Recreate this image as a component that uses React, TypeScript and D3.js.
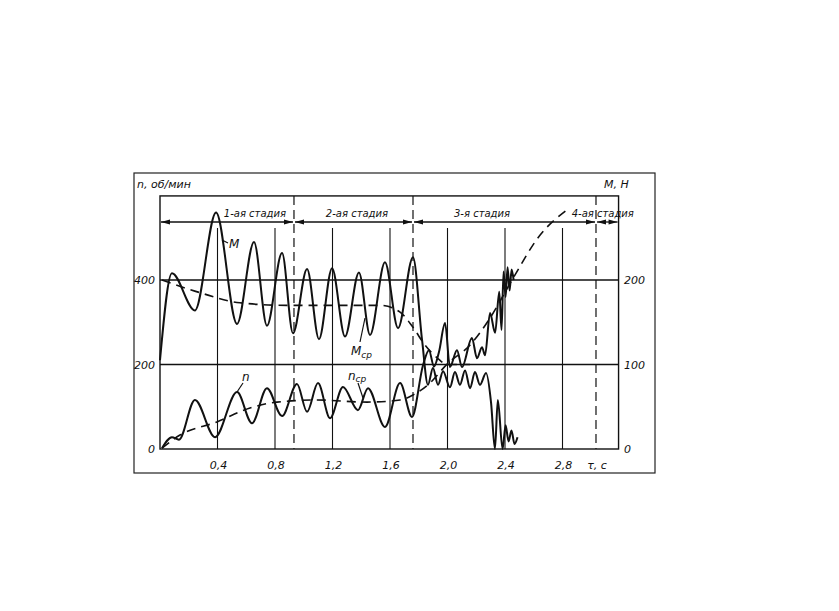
import React from 'react';
import * as d3 from 'd3';

// ---- axis data ----
const timeTicks = [0.4, 0.8, 1.2, 1.6, 2.0, 2.4, 2.8];
const timeTickLabels = ['0,4', '0,8', '1,2', '1,6', '2,0', '2,4', '2,8'];
const leftTicks = [0, 200, 400];
const leftTickLabels = ['0', '200', '400'];
const rightTicks = [0, 100, 200];
const rightTickLabels = ['0', '100', '200'];
const stageBounds = [0, 0.932, 1.76, 3.033, 3.19];
const stageLabels = ['1-ая стадия', '2-ая стадия', '3-я стадия', '4-ая стадия'];
const stageLabelT = [0.66, 1.37, 2.24, 3.08];

// ---- torque M (right axis, Н) ----
const mTime = [0, 0.083, 0.243, 0.39, 0.536, 0.654, 0.744, 0.849, 0.925, 1.023, 1.106, 1.197, 1.287, 1.384, 1.461, 1.565, 1.656, 1.76,
  1.823, 1.864, 1.899, 1.934, 1.969, 2.017, 2.052, 2.087, 2.122, 2.157, 2.191, 2.226, 2.268, 2.303, 2.33, 2.35, 2.383,
  2.404, 2.425, 2.445, 2.466, 2.487];
const mValue = [105, 208, 164, 280, 148, 245, 146, 232, 137, 213, 130, 214, 133, 209, 135, 221, 143, 227,
  129, 76, 96, 76, 92, 73, 91, 76, 93, 72, 91, 76, 90, 55, 0, 58, 0,
  28, 9, 22, 6, 14];

// ---- speed n (left axis, об/мин) ----
const nTime = [0.014, 0.083, 0.132, 0.243, 0.383, 0.536, 0.64, 0.744, 0.849, 0.953, 1.023, 1.099, 1.183, 1.273, 1.377, 1.447, 1.565, 1.67, 1.753,
  1.83, 1.871, 1.906, 1.941, 1.983, 2.017, 2.066, 2.101, 2.17, 2.205, 2.24, 2.261, 2.296, 2.331, 2.36,
  2.376, 2.39, 2.404, 2.418, 2.432, 2.446, 2.46];
const nValue = [2, 28, 22, 116, 28, 135, 61, 144, 78, 154, 88, 156, 73, 147, 92, 144, 52, 156, 76,
  199, 234, 195, 230, 298, 194, 234, 194, 263, 215, 241, 222, 322, 275, 372,
  282, 420, 360, 430, 375, 425, 400];

// ---- mean torque Mср (dashed, right axis) ----
const mAvgTime = [0.014, 0.278, 0.556, 0.883, 1.53, 1.67, 1.76, 1.843, 1.927, 1.997, 2.157];
const mAvgValue = [200, 185, 173, 170, 170, 162, 144, 123, 108, 100, 100];

// ---- mean speed nср (dashed, left axis) ----
const nAvgTime = [0.014, 0.139, 0.396, 0.626, 0.814, 1.092, 1.44, 1.67, 1.76, 1.878, 1.997, 2.157, 2.296, 2.449, 2.643, 2.831];
const nAvgValue = [2, 33, 64, 97, 111, 116, 111, 116, 128, 156, 201, 246, 310, 400, 506, 566];

const W = 839;
const H = 611;
const font = "'DejaVu Sans', 'Liberation Sans', sans-serif";

export default function App() {
  const x = d3.scaleLinear().domain([0, 2.8]).range([160, 562.5]);
  const yN = d3.scaleLinear().domain([0, 400]).range([449, 280]);
  const yM = d3.scaleLinear().domain([0, 200]).range([449, 280]);

  const left = x(0);
  const right = x(3.19);
  const top = yN(599);
  const bottom = yN(0);
  const arrowY = 222;
  const gridTop = 228;

  const lineGen = (ys: (v: number) => number) =>
    d3.line<[number, number]>().x((d) => x(d[0])).y((d) => ys(d[1])).curve(d3.curveMonotoneX);

  const mPts = mTime.map((t, i) => [t, mValue[i]] as [number, number]);
  const nPts = nTime.map((t, i) => [t, nValue[i]] as [number, number]);
  const mAvgPts = mAvgTime.map((t, i) => [t, mAvgValue[i]] as [number, number]);
  const nAvgPts = nAvgTime.map((t, i) => [t, nAvgValue[i]] as [number, number]);

  const arrowHead = (px: number, dir: number, key: string) => (
    <path key={key} d={`M${px},${arrowY} L${px - dir * 9},${arrowY - 2.5} L${px - dir * 9},${arrowY + 2.5} Z`} fill="#111" />
  );

  return (
    <svg width={W} height={H} style={{ position: 'absolute', left: 0, top: 0, background: '#fff' }}>
      <rect x={0} y={0} width={W} height={H} fill="#fff" />
      {/* outer frame */}
      <rect x={134} y={173} width={521} height={300} fill="none" stroke="#222" strokeWidth={1.2} />
      {/* inner plot frame */}
      <rect x={left} y={top} width={right - left} height={bottom - top} fill="none" stroke="#111" strokeWidth={1.4} />

      {/* horizontal grid */}
      {[200, 400].map((v) => (
        <line key={'h' + v} x1={left} x2={right} y1={yN(v)} y2={yN(v)} stroke="#111" strokeWidth={1.3} />
      ))}
      {/* vertical grid */}
      {timeTicks.map((t) => (
        <line key={'v' + t} x1={x(t)} x2={x(t)} y1={gridTop} y2={bottom} stroke="#111" strokeWidth={1.1} />
      ))}
      {/* stage boundaries */}
      {stageBounds.slice(1, 4).map((t) => (
        <line key={'s' + t} x1={x(t)} x2={x(t)} y1={top} y2={bottom} stroke="#111" strokeWidth={1.2} strokeDasharray="9,5" />
      ))}

      {/* stage arrows */}
      {stageBounds.slice(0, 4).map((t, i) => {
        const a = x(t) + 1;
        const b = x(stageBounds[i + 1]) - 1;
        return (
          <g key={'arr' + i}>
            <line x1={a} x2={b} y1={arrowY} y2={arrowY} stroke="#111" strokeWidth={1.3} />
            {arrowHead(a, -1, 'l')}
            {arrowHead(b, 1, 'r')}
          </g>
        );
      })}
      {stageLabels.map((s, i) => (
        <text key={'sl' + i} x={x(stageLabelT[i])} y={217} textAnchor="middle" fontFamily={font} fontStyle="italic" fontSize={10} fill="#111">
          {s}
        </text>
      ))}

      {/* curves */}
      <path d={lineGen(yM)(mAvgPts) || ''} fill="none" stroke="#111" strokeWidth={1.6} strokeDasharray="9,6" />
      <path d={lineGen(yN)(nAvgPts) || ''} fill="none" stroke="#111" strokeWidth={1.6} strokeDasharray="9,6" />
      <path d={lineGen(yM)(mPts) || ''} fill="none" stroke="#111" strokeWidth={2} />
      <path d={lineGen(yN)(nPts) || ''} fill="none" stroke="#111" strokeWidth={2} />

      {/* curve labels */}
      <line x1={222} y1={240} x2={228} y2={243} stroke="#111" strokeWidth={1.2} />
      <text x={229} y={248} fontFamily={font} fontStyle="italic" fontSize={12} fill="#111">M</text>
      <line x1={237} y1={392} x2={243} y2={383} stroke="#111" strokeWidth={1.2} />
      <text x={242} y={381} fontFamily={font} fontStyle="italic" fontSize={12} fill="#111">n</text>
      <line x1={358} y1={383} x2={363} y2={398} stroke="#111" strokeWidth={1.2} />
      <text x={348} y={380} fontFamily={font} fontStyle="italic" fontSize={12} fill="#111">n<tspan fontSize={9} dy={2}>ср</tspan></text>
      <line x1={360} y1={342} x2={365} y2={318} stroke="#111" strokeWidth={1.2} />
      <text x={351} y={355} fontFamily={font} fontStyle="italic" fontSize={12} fill="#111">M<tspan fontSize={9} dy={3}>ср</tspan></text>

      {/* axis labels */}
      <text x={137} y={188} fontFamily={font} fontStyle="italic" fontSize={11} fill="#111">n, об/мин</text>
      <text x={604} y={188} fontFamily={font} fontStyle="italic" fontSize={11} fill="#111">M, Н</text>
      {leftTicks.map((v, i) => (
        <text key={'lt' + v} x={155} y={yN(v) + 4} textAnchor="end" fontFamily={font} fontStyle="italic" fontSize={11} fill="#111">
          {leftTickLabels[i]}
        </text>
      ))}
      {rightTicks.map((v, i) => (
        <text key={'rt' + v} x={624} y={yM(v) + 4} textAnchor="start" fontFamily={font} fontStyle="italic" fontSize={11} fill="#111">
          {rightTickLabels[i]}
        </text>
      ))}
      {timeTicks.map((t, i) => (
        <text key={'tt' + t} x={x(t) + 1} y={469} textAnchor="middle" fontFamily={font} fontStyle="italic" fontSize={11} fill="#111">
          {timeTickLabels[i]}
        </text>
      ))}
      <text x={597} y={469} textAnchor="middle" fontFamily={font} fontStyle="italic" fontSize={11} fill="#111">τ, с</text>
    </svg>
  );
}
